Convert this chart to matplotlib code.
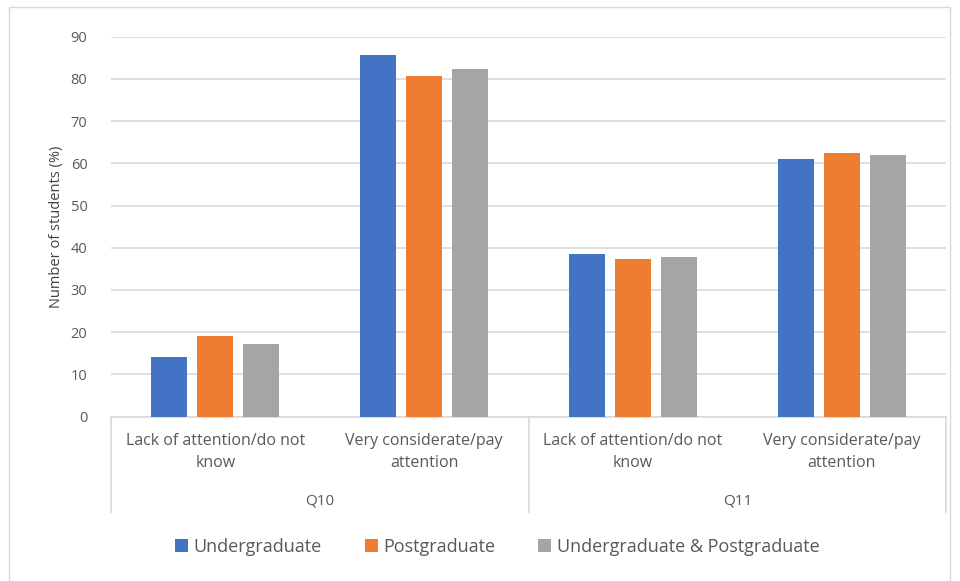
import numpy as np
import matplotlib
matplotlib.use("Agg")
from matplotlib import pyplot as plt
from matplotlib.patches import Rectangle

plt.rcParams['font.family'] = ['Open Sans', 'DejaVu Sans']

# answers within each question
answers = ["Lack of attention/do not\nknow", "Very considerate/pay\nattention"]
questions = ["Q10", "Q11"]
series_names = ["Undergraduate", "Postgraduate", "Undergraduate & Postgraduate"]
colors = ["#4472c4", "#ed7d31", "#a5a5a5"]

# percentages, ordered Q10 lack, Q10 very, Q11 lack, Q11 very
undergrad = [14.0, 85.7, 38.6, 61.0]
postgrad = [19.0, 80.6, 37.4, 62.4]
both = [17.2, 82.4, 37.8, 61.9]
values = [undergrad, postgrad, both]

W, H = 960, 581
fig = plt.figure(figsize=(W / 100, H / 100), dpi=100)
fig.patches.append(Rectangle((9 / W, -5 / H), 941 / W, 579 / H, transform=fig.transFigure,
                             fill=False, edgecolor="#d9d9d9", linewidth=1))

ax_left, ax_right = 111 / W, 946 / W
ax_top, ax_bottom = 36.7 / H, 416.5 / H
ax = fig.add_axes([ax_left, 1 - ax_bottom, ax_right - ax_left, ax_bottom - ax_top])

x = np.arange(4)
width = 0.172
step = 0.22
for i, (name, vals) in enumerate(zip(series_names, values)):
    ax.bar(x + (i - 1) * step, vals, width, color=colors[i], label=name, zorder=3)

ax.set_xlim(-0.5, 3.5)
ax.set_ylim(0, 90)
ax.set_yticks(range(0, 91, 10))
ax.yaxis.grid(True, color="#d9d9d9", linewidth=1.2)
ax.set_axisbelow(True)
for s in ["top", "right", "left"]:
    ax.spines[s].set_visible(False)
ax.spines["bottom"].set_color("#d9d9d9")
ax.spines["bottom"].set_linewidth(1.2)
ax.tick_params(axis="y", length=0, labelsize=10.5, labelcolor="#595959", pad=17)
ax.tick_params(axis="x", length=0, labelbottom=False)
ax.set_ylabel("Number of students (%)", fontsize=10.5, color="#404040", labelpad=5)

# category boxes below the axis
trans = ax.get_xaxis_transform()
ax_h = ax_bottom - ax_top
box_bottom = -(512 - 416.5) / (ax_h * H)
for xv in [-0.5, 1.5, 3.5]:
    ax.plot([xv, xv], [0, box_bottom], color="#d9d9d9", linewidth=1.2,
            transform=trans, clip_on=False)

for k in range(4):
    ax.text(k, -(452 - 416.5) / (ax_h * H), answers[k % 2], transform=trans,
            ha="center", va="center", fontsize=11.5, color="#595959", linespacing=1.45)
for j, q in enumerate(questions):
    ax.text(2 * j + 0.5, -(501 - 416.5) / (ax_h * H), q, transform=trans,
            ha="center", va="center", fontsize=11, color="#595959")

fig.legend(loc="center", bbox_to_anchor=(0.518, 1 - 547 / H), ncol=3, frameon=False,
           fontsize=13, handlelength=0.7, handleheight=0.7, handletextpad=0.3,
           columnspacing=2.4, labelcolor="#595959")

fig.savefig("out.png", dpi=100)
